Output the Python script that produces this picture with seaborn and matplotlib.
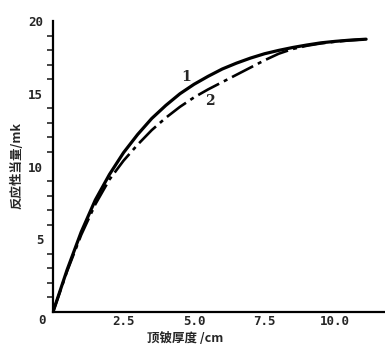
import numpy as np
import pandas as pd
import seaborn as sns
import matplotlib.pyplot as plt
from matplotlib.ticker import MultipleLocator

# thickness of the Be top reflector (cm) and reactivity worth (mk)
thickness = [0, 0.5, 1.0, 1.5, 2.0, 2.5, 3.0, 3.5, 4.0, 4.5, 5.0, 5.5,
             6.0, 6.5, 7.0, 7.5, 8.0, 8.5, 9.0, 9.5, 10.0, 10.5, 11.1]
curve1 = [0, 2.9, 5.5, 7.7, 9.45, 10.95, 12.2, 13.3, 14.2, 15.0, 15.65, 16.2,
          16.7, 17.1, 17.45, 17.75, 17.98, 18.18, 18.35, 18.5, 18.6, 18.68, 18.75]
curve2 = [0, 2.8, 5.3, 7.4, 9.1, 10.4, 11.5, 12.5, 13.35, 14.1, 14.75, 15.3,
          15.8, 16.3, 16.8, 17.3, 17.75, 18.08, 18.3, 18.46, 18.58, 18.67, 18.75]

x_ticks = [2.5, 5.0, 7.5, 10.0]
y_ticks = [0, 5, 10, 15, 20]

df = pd.DataFrame({'x': thickness, 'c1': curve1, 'c2': curve2})

sns.set_style('white')
plt.rcParams['font.family'] = ['Noto Sans CJK SC', 'DejaVu Sans']

fig = plt.figure(figsize=(3.85, 3.49), dpi=100)
ax = fig.add_axes([53/385, 37/349, 332/385, 291/349])

sns.lineplot(data=df, x='x', y='c1', ax=ax, color='black', lw=2.3)
sns.lineplot(data=df, x='x', y='c2', ax=ax, color='black', lw=1.9)
ax.lines[1].set_dashes([9, 2, 1.5, 2])

ax.text(4.72, 16.15, '1', fontsize=10, fontweight='bold', family='DejaVu Serif',
        ha='center', va='center')
ax.text(5.57, 14.5, '2', fontsize=10, fontweight='bold', family='DejaVu Serif',
        ha='center', va='center')

ax.set_xlim(0, 11.77)
ax.set_ylim(0, 20)
ax.set_xticks(x_ticks)
ax.set_xticklabels(['2.5', '5.0', '7.5', '10.0'], family='DejaVu Sans Mono',
                   fontweight='bold', fontsize=9)
ax.set_yticks(y_ticks)
ax.set_yticklabels(['', '5', '10', '15', '20'], family='DejaVu Sans Mono',
                   fontweight='bold', fontsize=9)
ax.yaxis.set_minor_locator(MultipleLocator(1))

ax.tick_params(axis='x', direction='in', length=5, width=1.3, pad=2)
ax.tick_params(axis='y', which='major', direction='out', length=6, width=1.3, pad=1)
ax.tick_params(axis='y', which='minor', direction='out', length=4, width=1.2, left=True)

for s in ['top', 'right']:
    ax.spines[s].set_visible(False)
for s in ['left', 'bottom']:
    ax.spines[s].set_color('black')
    ax.spines[s].set_linewidth(1.6)

# single 0 at the corner
ax.text(-0.25, -0.15, '0', family='DejaVu Sans Mono', fontweight='bold', fontsize=9,
        ha='right', va='top')

ax.set_xlabel('顶铍厚度 /cm', fontsize=9, fontweight='bold')
ax.set_ylabel('反应性当量/mk', fontsize=9, fontweight='bold')
ax.xaxis.set_label_coords((185 - 53) / 332, -0.07)
ax.yaxis.set_label_coords(-0.09, 0.505)

fig.savefig('out.png', dpi=100)
